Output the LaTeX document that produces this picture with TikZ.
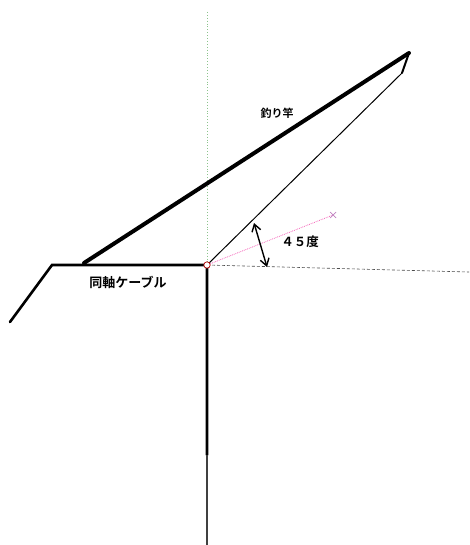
\documentclass[tikz,border=0pt]{standalone}
\usepackage{fontspec}
\newfontfamily\jp{Noto Sans CJK JP Bold}
\usetikzlibrary{arrows.meta,calc}
\definecolor{guidegreen}{RGB}{140,195,140}
\begin{document}
\begin{tikzpicture}[x=1pt,y=-1pt,
  thickline/.style={line width=2.6pt,line cap=round},
  rod/.style={line width=4pt,line cap=round},
  thinline/.style={line width=1pt},
  lbl/.style={font=\jp, inner sep=0pt}]
\useasboundingbox (0,0) rectangle (469,545);
\coordinate (O) at (207,265);
\coordinate (gtop) at (207,12);
\coordinate (vmid) at (207,455);
\coordinate (vbot) at (207,545);
\coordinate (c1) at (52,265);
\coordinate (c2) at (10,322);
\coordinate (r1) at (84,263);
\coordinate (tip) at (409,53);
\coordinate (t2) at (402,73);
\coordinate (px) at (333,215);
\coordinate (hr) at (469,272);
\coordinate (a1) at (254,223);
\coordinate (a2) at (267,267);
% guides
\draw[guidegreen, dotted, line width=0.9pt] (gtop) -- (O);
\draw[black!70, densely dashed, line width=0.6pt] (O) -- (hr);
\draw[magenta!60, densely dotted, line width=0.8pt] (O) -- (px);
\draw[violet!50, line width=0.7pt] ($(px)+(-3,-3)$) -- ($(px)+(3,3)$) ($(px)+(-3,3)$) -- ($(px)+(3,-3)$);
% structure
\draw[thickline] (c2) -- (c1) -- (O) -- (vmid);
\draw[black!75, line width=1.2pt] (vmid) -- (vbot);
\draw[rod] (r1) -- (tip);
\draw[thinline] (O) -- (t2);
\draw[line width=2pt, line cap=round] (t2) -- (tip);
% angle arrow
\draw[line width=1.4pt, {Straight Barb[length=7pt,width=9pt]}-{Straight Barb[length=7pt,width=9pt]}] (a1) -- (a2);
\draw[red!70!black, line width=0.7pt, fill=white] (O) circle (3.2);
% labels
\node[lbl, font=\jp\fontsize{11}{12}\selectfont] (l1) at (277,113) {釣り竿};
\node[lbl, font=\jp\fontsize{13}{14}\selectfont] (l2) at (128,282) {同軸ケーブル};
\node[lbl, font=\jp\fontsize{12.5}{14}\selectfont] (l3) at (300,242) {４５度};
\end{tikzpicture}
\end{document}
